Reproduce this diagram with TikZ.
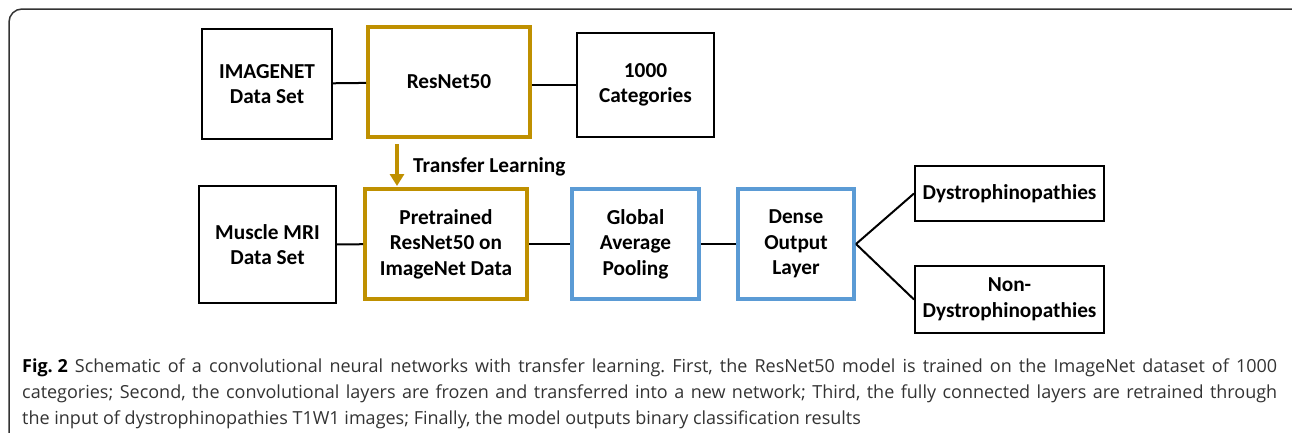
\documentclass[tikz,border=0pt]{standalone}
\usepackage{fontspec}
\setmainfont{Carlito}
\newfontfamily\capfont{Open Sans}
\usetikzlibrary{arrows.meta}
\definecolor{gold}{HTML}{BF9000}
\definecolor{paleblue}{HTML}{5B9BD5}
\definecolor{capgray}{HTML}{333333}
\frenchspacing
\tikzset{
  stage/.style={rectangle, inner sep=0pt, align=center,
    font=\bfseries\fontsize{21.3}{25.5}\selectfont},
  plainbox/.style={stage, draw=black, line width=2pt},
  goldbox/.style={stage, draw=gold, line width=4pt},
  bluebox/.style={stage, draw=paleblue, line width=4pt},
  link/.style={draw=black, line width=2pt},
  capline/.style={anchor=base west, inner sep=0pt, text=capgray,
    font=\capfont\fontsize{18}{26}\selectfont},
}
\begin{document}
\begin{tikzpicture}[x=1pt,y=-1pt]
\useasboundingbox (0,0) rectangle (1292,432);
% outer frame
\draw[line width=1.5pt, black!80, rounded corners=13pt] (9,9) rectangle (1306,446);

% pretraining row
\node[plainbox, minimum width=130pt, minimum height=110pt] (imgnet) at (267,84) {IMAGENET\\Data Set};
\node[goldbox, minimum width=162pt, minimum height=110pt] (resnet) at (449,82) {ResNet50};
\node[plainbox, minimum width=137pt, minimum height=104pt] (cats) at (645.5,85) {1000\\Categories};

% fine-tuning row
\node[plainbox, minimum width=137pt, minimum height=117pt] (mri) at (267.5,244.5) {Muscle MRI\\Data Set};
\node[goldbox, minimum width=162pt, minimum height=110pt] (pre) at (446,244) {Pretrained\\ResNet50 on\\ImageNet Data};
\node[bluebox, minimum width=127pt, minimum height=110pt] (gap) at (635.5,244) {Global\\Average\\Pooling};
\node[bluebox, minimum width=116pt, minimum height=110pt] (dense) at (796,244) {Dense\\Output\\Layer};
\node[plainbox, minimum width=189pt, minimum height=55pt] (dys) at (1009.5,193.5) {Dystrophinopathies};
\node[plainbox, minimum width=189pt, minimum height=67pt] (nondys) at (1009.5,299.5) {Non-\\Dystrophinopathies};

% connectors
\draw[link] (imgnet) -- (resnet);
\draw[link] (resnet.east |- cats.west) -- (cats.west);
\draw[link] (mri) -- (pre);
\draw[link] (pre) -- (gap);
\draw[link] (gap) -- (dense);
\draw[link] (dense.east) -- (dys.west);
\draw[link] (dense.east) -- (nondys.west);

% transfer arrow from the pretrained model down to its reuse
\draw[draw=gold, line width=4pt, -{Triangle[length=12pt,width=14pt]}]
  ([xshift=-52pt,yshift=-5pt]resnet.south) -- ([xshift=-49pt,yshift=1pt]pre.north);
\node[stage, anchor=west] (tl) at (413,167) {Transfer Learning};

% caption
\node[capline] (cap1) at (22,372) {\makebox[1255pt][s]{{\color{black}\bfseries\mbox{Fig. 2}} Schematic of a convolutional neural networks with transfer learning. First, the ResNet50 model is trained on the ImageNet dataset of 1000}};
\node[capline] (cap2) at (22,398) {\makebox[1255pt][s]{categories; Second, the convolutional layers are frozen and transferred into a new network; Third, the fully connected layers are retrained through}};
\node[capline] (cap3) at (22,424) {the input of dystrophinopathies T1W1 images; Finally, the model outputs binary classification results};
\end{tikzpicture}
\end{document}
